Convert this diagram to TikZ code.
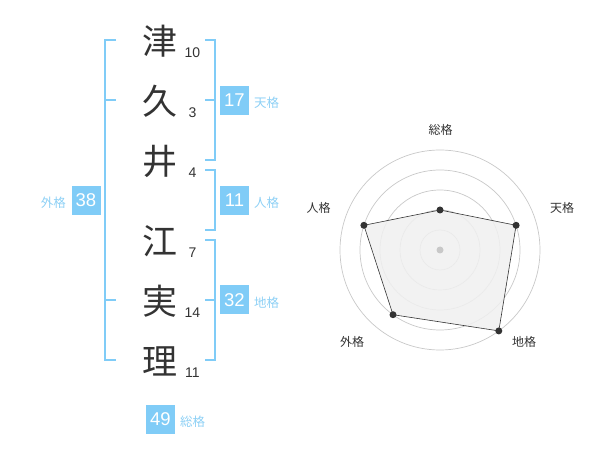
\documentclass[tikz,border=0pt]{standalone}
\usepackage{fontspec}
\setmainfont{Liberation Sans}
\newfontfamily\jp{Noto Sans CJK JP}
\definecolor{kblue}{HTML}{80CCF7}
\definecolor{klabel}{HTML}{8DD0F5}
\definecolor{kdark}{HTML}{333333}
\definecolor{kgrid}{HTML}{C8C8C8}
\definecolor{kfill}{HTML}{F0F0F0}
\begin{document}
\begin{tikzpicture}[x=1pt,y=-1pt,
  kanji/.style={font=\jp\fontsize{35}{35}\selectfont, text=kdark, inner sep=0pt},
  strokes/.style={font=\fontsize{14}{14}\selectfont, text=kdark, inner sep=0pt},
  numbox/.style={fill=kblue, text=white, minimum width=29pt, minimum height=29pt, inner sep=0pt, font=\fontsize{18.5}{18.5}\selectfont},
  kaku/.style={font=\jp\fontsize{12.5}{12.5}\selectfont, text=klabel, inner sep=0pt},
  bracket/.style={draw=kblue, line width=1.6pt},
  ring/.style={draw=kgrid, line width=0.7pt},
  rlabel/.style={font=\jp\fontsize{12}{12}\selectfont, text=kdark, inner sep=0pt},
  dot/.style={circle, fill=kdark, inner sep=0pt, minimum size=7pt}
]
\useasboundingbox (0,0) rectangle (600,470);

% characters
\node[kanji] (c1) at (160,41) {津};
\node[kanji] (c2) at (160,101) {久};
\node[kanji] (c3) at (160,161) {井};
\node[kanji] (c4) at (160,241) {江};
\node[kanji] (c5) at (160,301) {実};
\node[kanji] (c6) at (160,361) {理};

% stroke counts
\node[strokes] (s1) at (192.5,53) {10};
\node[strokes] (s2) at (192.5,113) {3};
\node[strokes] (s3) at (192.5,173) {4};
\node[strokes] (s4) at (192.5,253) {7};
\node[strokes] (s5) at (192.5,313) {14};
\node[strokes] (s6) at (192.5,373) {11};

% brackets
\draw[bracket] (116,40) -- (105,40) -- (105,360) -- (116,360);
\draw[bracket] (105,100) -- (116,100);
\draw[bracket] (105,300) -- (116,300);

\draw[bracket] (205,40) -- (215,40) -- (215,160) -- (205,160);
\draw[bracket] (205,100) -- (215,100);

\draw[bracket] (205,170) -- (215,170) -- (215,230) -- (205,230);

\draw[bracket] (205,240) -- (215,240) -- (215,360) -- (205,360);
\draw[bracket] (205,300) -- (215,300);

% boxes
\node[numbox] (b17) at (234.5,100.5) {17};
\node[kaku, anchor=west] (l17) at (254,103) {天格};
\node[numbox] (b11) at (234.5,200.5) {11};
\node[kaku, anchor=west] (l11) at (254,203) {人格};
\node[numbox] (b32) at (234.5,300) {32};
\node[kaku, anchor=west] (l32) at (254,303) {地格};
\node[numbox] (b38) at (86,200.5) {38};
\node[kaku, anchor=east] (l38) at (66,203) {外格};
\node[numbox] (b49) at (160.5,419) {49};
\node[kaku, anchor=west] (l49) at (180,422) {総格};

% radar
\coordinate (ctr) at (440,250);
\foreach \r in {20,40,60,80,100} \draw[ring] (ctr) circle[radius=\r];
\coordinate (pA) at (440,210);
\coordinate (pB) at (516.1,225.3);
\coordinate (pC) at (498.8,330.9);
\coordinate (pD) at (393,314.7);
\coordinate (pE) at (363.9,225.3);
\fill[kfill, fill opacity=0.85] (pA) -- (pB) -- (pC) -- (pD) -- (pE) -- cycle;
\draw[kdark, line width=0.6pt] (pA) -- (pB) -- (pC) -- (pD) -- (pE) -- cycle;
\node[circle, fill=kgrid, inner sep=0pt, minimum size=7pt] (cdot) at (ctr) {};
\node[dot] (dA) at (pA) {};
\node[dot] (dB) at (pB) {};
\node[dot] (dC) at (pC) {};
\node[dot] (dD) at (pD) {};
\node[dot] (dE) at (pE) {};

\node[rlabel] (rA) at (440.5,130) {総格};
\node[rlabel] (rB) at (562,208) {天格};
\node[rlabel] (rC) at (524,342) {地格};
\node[rlabel] (rD) at (352,342) {外格};
\node[rlabel] (rE) at (318.5,208) {人格};
\end{tikzpicture}
\end{document}
